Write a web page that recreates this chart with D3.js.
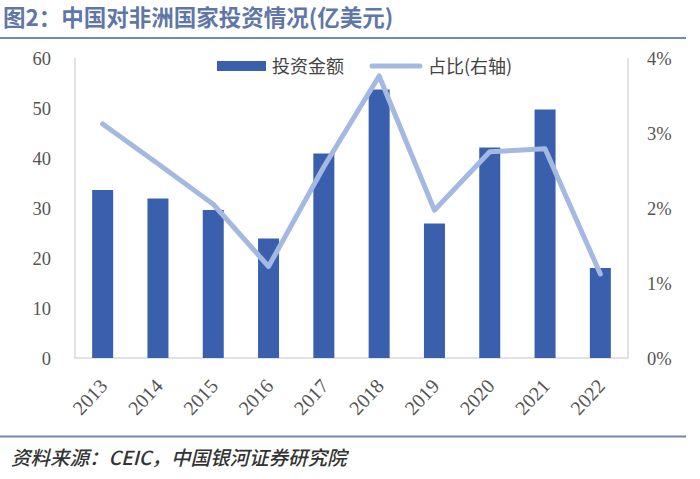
<!DOCTYPE html>
<html>
<head>
<meta charset="utf-8">
<script src="https://cdn.jsdelivr.net/npm/d3@7/dist/d3.min.js"></script>
<style>
  html, body { margin: 0; padding: 0; background: #fff; }
  svg { display: block; }
</style>
</head>
<body>
<svg id="chart" width="700" height="479"></svg>
<script>
const years = ["2013","2014","2015","2016","2017","2018","2019","2020","2021","2022"];
const amount = [33.6, 31.9, 29.6, 23.9, 40.9, 53.7, 26.9, 42.1, 49.7, 18.0];
const share = [3.12, 2.59, 2.05, 1.22, 2.55, 3.76, 1.97, 2.75, 2.79, 1.12];
const leftTicks = [0, 10, 20, 30, 40, 50, 60];
const rightTicks = [0, 1, 2, 3, 4];
const titleText = "图2：中国对非洲国家投资情况(亿美元)";
const sourceText = "资料来源：CEIC，中国银河证券研究院";
const legendBar = "投资金额";
const legendLine = "占比(右轴)";

(function () {
const svg = d3.select("#chart");
const barColor = "#3a60ad";
const lineColor = "#a4b9e2";
const numFont = "'Liberation Serif', 'DejaVu Serif', serif";
const cjkFont = "'Noto Sans CJK SC', sans-serif";

const pL = 75, pR = 628, pT = 58, pB = 358;

const x = d3.scaleBand().domain(years).range([pL, pR]).paddingInner(0.62).paddingOuter(0.31);
const yL = d3.scaleLinear().domain([0, 60]).range([pB, pT]);
const yR = d3.scaleLinear().domain([0, 4]).range([pB, pT]);

// title
svg.append("text").attr("x", 3).attr("y", 25.5)
  .attr("font-family", cjkFont).attr("font-weight", "bold").attr("font-size", 22.5)
  .attr("fill", "#5f77a8").text(titleText);
svg.append("line").attr("x1", 0).attr("x2", 686).attr("y1", 38).attr("y2", 38)
  .attr("stroke", "#7088b6").attr("stroke-width", 2);

// plot frame
svg.append("path")
  .attr("d", `M${pL},${pT}V${pB}H${pR}V${pT}`)
  .attr("fill", "none").attr("stroke", "#d9d9d9").attr("stroke-width", 1.5);

// bars
svg.append("g").selectAll("rect").data(years).join("rect")
  .attr("x", d => x(d))
  .attr("width", x.bandwidth())
  .attr("y", (d, i) => yL(amount[i]))
  .attr("height", (d, i) => yL(0) - yL(amount[i]))
  .attr("fill", barColor);

// line
const line = d3.line().x((d, i) => x(years[i]) + x.bandwidth() / 2).y(d => yR(d));
svg.append("path").datum(share).attr("d", line)
  .attr("fill", "none").attr("stroke", lineColor).attr("stroke-width", 5)
  .attr("stroke-linejoin", "round").attr("stroke-linecap", "round");

// left axis
const gL = svg.append("g").attr("transform", `translate(${pL - 24},0)`)
  .call(d3.axisLeft(yL).tickValues(leftTicks).tickSize(0).tickPadding(0));
gL.select(".domain").remove();
gL.selectAll("text").attr("font-family", numFont).attr("font-size", 18.5).attr("fill", "#555").attr("dy", "0.35em");

// right axis
const gR = svg.append("g").attr("transform", `translate(${pR + 19},0)`)
  .call(d3.axisRight(yR).tickValues(rightTicks).tickSize(0).tickPadding(0).tickFormat(d => d + "%"));
gR.select(".domain").remove();
gR.selectAll("text").attr("font-family", numFont).attr("font-size", 18.5).attr("fill", "#555").attr("dy", "0.35em");

// bottom axis
const gB = svg.append("g").attr("transform", `translate(0,${pB})`)
  .call(d3.axisBottom(x).tickSize(0).tickPadding(0));
gB.select(".domain").remove();
gB.selectAll("text")
  .attr("font-family", numFont).attr("font-size", 20).attr("fill", "#555")
  .attr("text-anchor", "end")
  .attr("y", 0)
  .attr("transform", "translate(6,29) rotate(-47)")
  .attr("dy", "0");

// legend
svg.append("rect").attr("x", 217).attr("y", 61).attr("width", 49).attr("height", 10).attr("fill", barColor);
svg.append("text").attr("x", 272).attr("y", 72.5).attr("font-family", cjkFont).attr("font-size", 18)
  .attr("fill", "#444").text(legendBar);
svg.append("line").attr("x1", 372).attr("x2", 420).attr("y1", 66).attr("y2", 66)
  .attr("stroke", lineColor).attr("stroke-width", 5).attr("stroke-linecap", "round");
svg.append("text").attr("x", 428).attr("y", 72.5).attr("font-family", cjkFont).attr("font-size", 18)
  .attr("fill", "#444").text(legendLine);

// source
svg.append("line").attr("x1", 0).attr("x2", 686).attr("y1", 436.5).attr("y2", 436.5)
  .attr("stroke", "#7088b6").attr("stroke-width", 2);
svg.append("text").attr("x", 11).attr("y", 465)
  .attr("font-family", cjkFont).attr("font-style", "italic").attr("font-weight", 500).attr("font-size", 19.5)
  .attr("fill", "#333").text(sourceText);
})();
</script>
</body>
</html>
